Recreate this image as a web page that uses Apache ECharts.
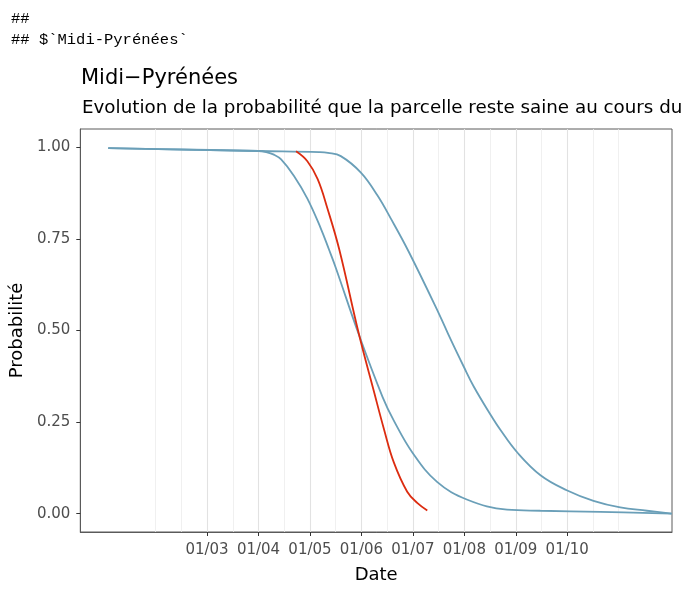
<!DOCTYPE html>
<html>
<head>
<meta charset="utf-8">
<script src="https://cdn.jsdelivr.net/npm/echarts@6/dist/echarts.min.js"></script>
<style>
  html, body { margin: 0; padding: 0; background: #fff; }
  #main { width: 685px; height: 589px; }
</style>
</head>
<body>
<div id="main"></div>
<script>
// x en mois (3 = 01/03), y = probabilite que la parcelle reste saine
let monthTicks = [3, 4, 5, 6, 7, 8, 9, 10];
let minorGrid = [2, 2.5, 3.5, 4.5, 5.5, 6.5, 7.5, 8.5, 9.5, 10.5, 11];
let probTicks = [0, 0.25, 0.5, 0.75, 1];

let courbeBleue1 = [
  [1.08, 0.998], [2.5, 0.994], [4.0, 0.990], [4.15, 0.987], [4.3, 0.980],
  [4.44, 0.967], [4.69, 0.922], [4.95, 0.860], [5.21, 0.779], [5.37, 0.721],
  [5.50, 0.672], [5.95, 0.489], [6.41, 0.319], [6.63, 0.254], [6.99, 0.167],
  [7.47, 0.087], [8.06, 0.038], [8.83, 0.011], [9.48, 0.008], [10.64, 0.005],
  [12.03, 0.0]
];
let courbeBleue2 = [
  [1.08, 0.998], [4.0, 0.990], [5.18, 0.987], [5.35, 0.985], [5.60, 0.976],
  [5.99, 0.931], [6.31, 0.869], [6.57, 0.806], [6.92, 0.715], [7.51, 0.545],
  [7.73, 0.477], [7.99, 0.401], [8.18, 0.348], [8.51, 0.270], [8.70, 0.229],
  [9.03, 0.167], [9.48, 0.105], [9.99, 0.064], [10.51, 0.035], [11.03, 0.017],
  [11.55, 0.008], [12.03, 0.0]
];
let courbeRouge = [
  [4.73, 0.989], [4.95, 0.962], [5.15, 0.913], [5.34, 0.833], [5.57, 0.721],
  [5.95, 0.491], [6.25, 0.330], [6.44, 0.230], [6.63, 0.140], [6.89, 0.060],
  [7.09, 0.029], [7.28, 0.009]
];

let chart = echarts.init(document.getElementById('main'), null, { renderer: 'canvas' });

let gridLines = monthTicks.map(v => ({ xAxis: v, lineStyle: { color: '#e2e2e2', width: 1.1, type: 'solid' } }))
  .concat(minorGrid.map(v => ({ xAxis: v, lineStyle: { color: '#ececec', width: 0.8, type: 'solid' } })));

function courbe(data, color) {
  return {
    type: 'line',
    data: data,
    symbol: 'none',
    smooth: 0.4,
    lineStyle: { color: color, width: 1.8 },
    itemStyle: { color: color },
    z: 10,
    animation: false
  };
}

let option = {
  animation: false,
  textStyle: { fontFamily: 'DejaVu Sans' },
  title: [
    { text: 'Midi−Pyrénées', left: 76, top: 63,
      textStyle: { fontFamily: 'DejaVu Sans', fontSize: 21, fontWeight: 'normal', color: '#000' } },
    { text: 'Evolution de la probabilité que la parcelle reste saine au cours du', left: 77, top: 94,
      textStyle: { fontFamily: 'DejaVu Sans', fontSize: 18.3, fontWeight: 'normal', color: '#000' } }
  ],
  graphic: [
    { type: 'text', left: 11, top: 11,
      style: { text: '##', font: '15.5px "Liberation Mono"', fill: '#000' } },
    { type: 'text', left: 11, top: 32,
      style: { text: '## $`Midi-Pyrénées`', font: '15.5px "Liberation Mono"', fill: '#000' } }
  ],
  grid: { left: 79, right: 13, top: 129, bottom: 52, show: true, borderColor: '#5a5a5a', borderWidth: 1 },
  xAxis: {
    type: 'value',
    min: 0.537,
    max: 12.036,
    name: 'Date',
    nameLocation: 'middle',
    nameGap: 34,
    nameTextStyle: { fontFamily: 'DejaVu Sans', fontSize: 18, color: '#000' },
    axisLine: { show: true, onZero: false, lineStyle: { color: '#5a5a5a', width: 1 } },
    axisTick: { show: true, length: 4, customValues: monthTicks, lineStyle: { color: '#333' } },
    axisLabel: {
      customValues: monthTicks,
      margin: 11,
      fontSize: 15,
      color: '#4d4d4d',
      fontFamily: 'DejaVu Sans',
      formatter: v => '01/' + (v < 10 ? '0' : '') + v
    },
    splitLine: { show: false }
  },
  yAxis: {
    type: 'value',
    min: -0.05,
    max: 1.05,
    name: 'Probabilité',
    nameLocation: 'middle',
    nameGap: 48,
    nameTextStyle: { fontFamily: 'DejaVu Sans', fontSize: 18, color: '#000' },
    axisLine: { show: true, onZero: false, lineStyle: { color: '#5a5a5a', width: 1 } },
    axisTick: { show: true, length: 4, customValues: probTicks, lineStyle: { color: '#333' } },
    axisLabel: {
      customValues: probTicks,
      margin: 10,
      fontSize: 15,
      color: '#4d4d4d',
      fontFamily: 'DejaVu Sans',
      formatter: v => v.toFixed(2)
    },
    splitLine: { show: false }
  },
  series: [
    {
      type: 'line',
      data: [],
      z: 1,
      silent: true,
      markLine: {
        z: 1,
        silent: true,
        symbol: ['none', 'none'],
        label: { show: false },
        emphasis: { disabled: true },
        animation: false,
        data: gridLines
      }
    },
    courbe(courbeBleue1, '#6a9fb8'),
    courbe(courbeBleue2, '#6a9fb8'),
    courbe(courbeRouge, '#dc2c10')
  ]
};

chart.setOption(option);
</script>
</body>
</html>
